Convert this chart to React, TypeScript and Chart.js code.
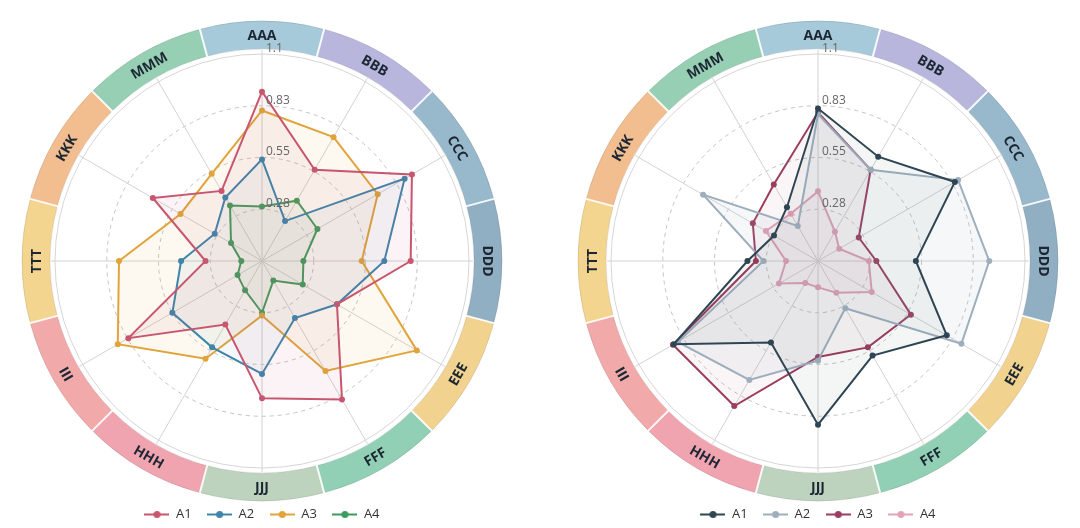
import React, { useEffect, useRef } from "react";
import { Chart, registerables } from "chart.js";

Chart.register(...registerables);

// ---------- data ----------
const CATEGORIES = ["AAA", "BBB", "CCC", "DDD", "EEE", "FFF", "JJJ", "HHH", "III", "TTT", "KKK", "MMM"];
const RING_COLORS = [
  "#a7cadb", "#b8b6dd", "#98b8cb", "#91afc2", "#f2d28f", "#92d0b6",
  "#bdd3be", "#f0a4b0", "#f1aaa9", "#f4d58f", "#f2be90", "#96cfb4",
];
const SERIES_NAMES = ["A1", "A2", "A3", "A4"];
const TICK_VALUES = [0.275, 0.55, 0.825, 1.1];
const TICK_LABELS = ["0.28", "0.55", "0.83", "1.1"];

const LEFT_A1 = [0.9, 0.56, 0.92, 0.79, 0.46, 0.85, 0.73, 0.39, 0.82, 0.3, 0.67, 0.43];
const LEFT_A2 = [0.54, 0.245, 0.875, 0.65, 0.46, 0.35, 0.6, 0.53, 0.55, 0.43, 0.29, 0.39];
const LEFT_A3 = [0.8, 0.76, 0.71, 0.53, 0.95, 0.675, 0.29, 0.6, 0.885, 0.76, 0.5, 0.535];
const LEFT_A4 = [0.29, 0.37, 0.34, 0.22, 0.25, 0.12, 0.275, 0.18, 0.15, 0.11, 0.19, 0.34];

const RIGHT_A1 = [0.81, 0.64, 0.84, 0.52, 0.79, 0.58, 0.87, 0.5, 0.885, 0.375, 0.27, 0.33];
const RIGHT_A2 = [0.78, 0.56, 0.86, 0.91, 0.88, 0.29, 0.53, 0.73, 0.86, 0.29, 0.705, 0.215];
const RIGHT_A3 = [0.79, 0.56, 0.25, 0.31, 0.57, 0.53, 0.51, 0.89, 0.89, 0.33, 0.4, 0.47];
const RIGHT_A4 = [0.37, 0.18, 0.13, 0.27, 0.33, 0.195, 0.14, 0.135, 0.24, 0.17, 0.32, 0.29];

const LEFT_COLORS = ["#c8566e", "#3f84aa", "#e0a43a", "#3c9a5c"];
const LEFT_FILLS = ["rgba(200,86,110,0.07)", "rgba(63,132,170,0.06)", "rgba(224,164,58,0.08)", "rgba(60,154,92,0.06)"];
const RIGHT_COLORS = ["#2f4553", "#9eaebd", "#9b3d5e", "#e2a3b9"];
const RIGHT_FILLS = ["rgba(47,69,83,0.05)", "rgba(158,174,189,0.10)", "rgba(155,61,94,0.05)", "rgba(226,163,185,0.10)"];

const FONT = '"Open Sans", "Noto Sans", sans-serif';
Chart.defaults.font.family = FONT;

function makeMarker(color: string): HTMLCanvasElement {
  const c = document.createElement("canvas");
  c.width = 25;
  c.height = 9;
  const g = c.getContext("2d")!;
  g.strokeStyle = color;
  g.lineWidth = 2;
  g.beginPath();
  g.moveTo(0, 4.5);
  g.lineTo(25, 4.5);
  g.stroke();
  g.fillStyle = color;
  g.beginPath();
  g.arc(12.5, 4.5, 3.5, 0, Math.PI * 2);
  g.fill();
  return c;
}

const RING_INNER_GAP = 5;
const RING_WIDTH = 28;

const decorPlugin = {
  id: "decor",
  beforeDatasetsDraw(chart: any) {
    const s = chart.scales.r;
    const ctx = chart.ctx;
    ctx.save();
    ctx.strokeStyle = "#d2d2d2";
    ctx.lineWidth = 1;
    for (let i = 0; i < CATEGORIES.length; i++) {
      const p = s.getPointPosition(i, s.drawingArea + RING_INNER_GAP - 1);
      ctx.beginPath();
      ctx.moveTo(s.xCenter, s.yCenter);
      ctx.lineTo(p.x, p.y);
      ctx.stroke();
    }
    ctx.restore();
  },
  afterDraw(chart: any) {
    const s = chart.scales.r;
    const ctx = chart.ctx;
    const n = CATEGORIES.length;
    const half = Math.PI / n;
    const inner = s.drawingArea + RING_INNER_GAP;
    const outer = inner + RING_WIDTH;
    const cx = s.xCenter;
    const cy = s.yCenter;
    ctx.save();
    for (let i = 0; i < n; i++) {
      const a = s.getIndexAngle(i) - Math.PI / 2;
      ctx.beginPath();
      ctx.arc(cx, cy, outer, a - half, a + half);
      ctx.arc(cx, cy, inner, a + half, a - half, true);
      ctx.closePath();
      ctx.fillStyle = RING_COLORS[i];
      ctx.fill();
    }
    ctx.strokeStyle = "rgba(0,0,0,0.10)";
    ctx.lineWidth = 1;
    ctx.beginPath();
    ctx.arc(cx, cy, outer, 0, Math.PI * 2);
    ctx.stroke();
    ctx.beginPath();
    ctx.arc(cx, cy, inner, 0, Math.PI * 2);
    ctx.stroke();
    ctx.strokeStyle = "rgba(255,255,255,0.9)";
    ctx.lineWidth = 2;
    for (let i = 0; i < n; i++) {
      const b = s.getIndexAngle(i) - Math.PI / 2 - half;
      ctx.beginPath();
      ctx.moveTo(cx + (inner - 1) * Math.cos(b), cy + (inner - 1) * Math.sin(b));
      ctx.lineTo(cx + (outer + 1) * Math.cos(b), cy + (outer + 1) * Math.sin(b));
      ctx.stroke();
    }
    ctx.font = `bold 14px ${FONT}`;
    ctx.fillStyle = "#1c2733";
    ctx.textAlign = "center";
    ctx.textBaseline = "middle";
    const mid = (inner + outer) / 2;
    for (let i = 0; i < n; i++) {
      let rot = s.getIndexAngle(i);
      if (rot > Math.PI / 2 + 0.01 && rot < (3 * Math.PI) / 2 - 0.01) rot -= Math.PI;
      const p = s.getPointPosition(i, mid);
      ctx.save();
      ctx.translate(p.x, p.y);
      ctx.rotate(rot);
      ctx.fillText(CATEGORIES[i], 0, 1);
      ctx.restore();
    }
    // radial tick labels
    ctx.font = `12px ${FONT}`;
    ctx.fillStyle = "#666666";
    ctx.textAlign = "left";
    ctx.textBaseline = "middle";
    TICK_VALUES.forEach((v, i) => {
      const r = s.getDistanceFromCenterForValue(v);
      ctx.fillText(TICK_LABELS[i], cx + 4, cy - r - 5.5);
    });
    ctx.restore();
  },
};

function RadarPanel(props: { series: number[][]; colors: string[]; fills: string[]; left: number }) {
  const ref = useRef<HTMLCanvasElement>(null);
  useEffect(() => {
    const { series, colors, fills } = props;
    const markers = colors.map(makeMarker);
    const chart = new Chart(ref.current!, {
      type: "radar",
      data: {
        labels: CATEGORIES,
        datasets: series.map((d, i) => ({
          label: SERIES_NAMES[i],
          data: d,
          borderColor: colors[i],
          backgroundColor: fills[i],
          pointBackgroundColor: colors[i],
          pointBorderColor: colors[i],
          pointBorderWidth: 0,
          pointRadius: 3,
          borderWidth: 2,
          fill: true,
        })),
      },
      options: {
        responsive: false,
        animation: false,
        layout: { padding: { left: 55, right: 55, top: 31, bottom: -3 } },
        plugins: {
          tooltip: { enabled: false },
          legend: {
            position: "bottom",
            labels: {
              usePointStyle: true,
              pointStyleWidth: 25,
              padding: 15.5,
              color: "#333333",
              font: { size: 13, family: FONT },
              generateLabels: (c: any) =>
                c.data.datasets.map((ds: any, i: number) => ({
                  text: ds.label,
                  pointStyle: markers[i],
                  fillStyle: colors[i],
                  strokeStyle: colors[i],
                  lineWidth: 0,
                  hidden: false,
                  datasetIndex: i,
                  fontColor: "#333333",
                })),
            },
          },
        },
        scales: {
          r: {
            min: 0,
            max: 1.1,
            ticks: { count: 5, display: false },
            angleLines: { display: false },
            pointLabels: { display: false },
            grid: {
              circular: true,
              lineWidth: 1,
              color: (c: any) => (c.index === 4 ? "#d6d6d6" : "#c2c2c2"),
            },
            border: { dash: (c: any) => (c.index === 4 ? [] : [4, 4]) },
          },
        },
      } as any,
      plugins: [decorPlugin],
    });
    return () => chart.destroy();
  }, []);
  return (
    <div style={{ position: "absolute", left: props.left, top: 0, width: 524, height: 528 }}>
      <canvas ref={ref} width={524} height={528} style={{ display: "block" }} />
    </div>
  );
}

export default function App() {
  return (
    <div style={{ position: "absolute", left: 0, top: 0, width: 1080, height: 528, background: "#ffffff", overflow: "hidden" }}>
      <RadarPanel series={[LEFT_A1, LEFT_A2, LEFT_A3, LEFT_A4]} colors={LEFT_COLORS} fills={LEFT_FILLS} left={0} />
      <RadarPanel series={[RIGHT_A1, RIGHT_A2, RIGHT_A3, RIGHT_A4]} colors={RIGHT_COLORS} fills={RIGHT_FILLS} left={556} />
    </div>
  );
}
